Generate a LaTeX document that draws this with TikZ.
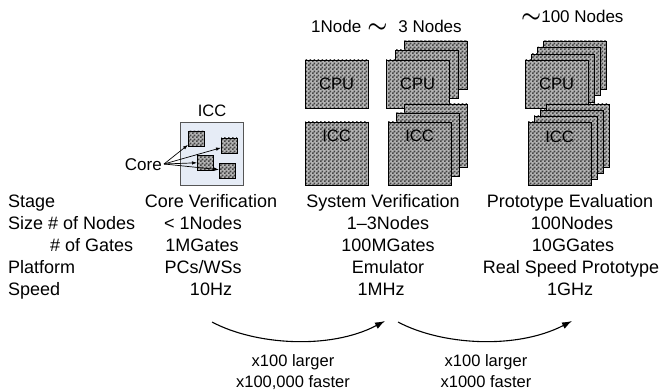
\documentclass[tikz,border=0pt]{standalone}
\usepackage{fontspec}
\setmainfont{Liberation Sans}
\usetikzlibrary{patterns,arrows.meta}
\pgfdeclarepatternformonly{finecheck}{\pgfpointorigin}{\pgfqpoint{4pt}{4pt}}{\pgfqpoint{4pt}{4pt}}{%
  \pgfpathrectangle{\pgfpointorigin}{\pgfqpoint{2pt}{2pt}}%
  \pgfpathrectangle{\pgfqpoint{2pt}{2pt}}{\pgfqpoint{2pt}{2pt}}%
  \pgfusepath{fill}}
\definecolor{iccblue}{HTML}{E6ECF6}
\definecolor{checklight}{HTML}{B4B4B4}
\definecolor{checkdark}{HTML}{444444}
\definecolor{iccborder}{HTML}{555555}
\newcommand{\bigsim}{\scalebox{1.3}{\boldmath$\sim$}}
\begin{document}
\begin{tikzpicture}[x=1pt,y=-1pt,
  chk/.style={draw=black, line width=0.8pt, preaction={fill=checklight},
    pattern=finecheck, pattern color=checkdark, inner sep=0pt, outer sep=0pt,
    anchor=north west},
  cpubox/.style={chk, minimum width=63pt, minimum height=48pt,
    font=\fontsize{16.5}{18}\selectfont},
  iccbox/.style={chk, minimum width=63pt, minimum height=63pt},
  boxlbl/.style={font=\fontsize{16.5}{18}\selectfont, inner sep=0pt, anchor=north},
  smallsq/.style={chk, minimum width=16pt, minimum height=15pt},
  lbl/.style={font=\fontsize{18}{20}\selectfont, inner sep=0pt, anchor=base},
  toplbl/.style={font=\fontsize{17}{19}\selectfont, inner sep=0pt, anchor=base west},
  gain/.style={font=\fontsize{16.5}{18}\selectfont, inner sep=0pt, anchor=base},
  corearrow/.style={-{Latex[length=5pt,width=3.5pt]}, line width=0.7pt},
  bigarrow/.style={-{Latex[length=10pt,width=7pt]}, line width=1.1pt}]
\useasboundingbox (0,0) rectangle (668,390);

% ---------- Core verification ICC ----------
\node[font=\fontsize{16.5}{18}\selectfont, inner sep=0pt, anchor=base] (iccT) at (212,117) {ICC};
\node[draw=iccborder, fill=iccblue, line width=0.8pt, minimum width=63pt,
  minimum height=63pt, inner sep=0pt, anchor=north west] (coreicc) at (180,122) {};
\node[smallsq] (sq1) at (188,131) {};
\node[smallsq] (sq2) at (221,138) {};
\node[smallsq] (sq3) at (197,155) {};
\node[smallsq] (sq4) at (219,163) {};
\node[font=\fontsize{17}{19}\selectfont, inner sep=0pt, anchor=base east] (core) at (162,170) {Core};
\coordinate (cc) at (164,164);
\draw[corearrow] (cc) -- (sq1);
\draw[corearrow] (cc) -- (sq2);
\draw[corearrow] (cc) -- (sq3);
\draw[corearrow] (cc) -- (sq4);

% ---------- System verification ----------
\node[toplbl] (sysTop) at (311,33) {1Node\hspace{6pt}\bigsim\hspace{11pt}3 Nodes};
\node[cpubox] (cpuA) at (305,60) {CPU};
\node[iccbox] (iccA) at (305,122) {};
\node[boxlbl] (iccAl) at ([yshift=-8pt]iccA.north) {ICC};

\node[cpubox] (cpuB3) at (404,41) {};
\node[cpubox] (cpuB2) at (395,50) {};
\node[cpubox] (cpuB1) at (386,60) {CPU};
\node[iccbox] (iccB3) at (404,104) {};
\node[iccbox] (iccB2) at (396,113) {};
\node[iccbox] (iccB1) at (388,122) {};
\node[boxlbl] (iccBl) at ([yshift=-8pt]iccB1.north) {ICC};

% ---------- Prototype evaluation ----------
\node[toplbl] (protoTop) at (521,23) {\bigsim 100 Nodes};
\node[cpubox] (cpuC4) at (543,41) {};
\node[cpubox] (cpuC3) at (537,47) {};
\node[cpubox] (cpuC2) at (531,54) {};
\node[cpubox] (cpuC1) at (525,60) {CPU};
\node[iccbox] (iccC4) at (546,104) {};
\node[iccbox] (iccC3) at (540,110) {};
\node[iccbox] (iccC2) at (534,116) {};
\node[iccbox] (iccC1) at (528,122) {};
\node[boxlbl] (iccCl) at ([yshift=-9pt]iccC1.north) {ICC};

% ---------- Table ----------
\node[lbl, anchor=base west] (hStage) at (8,207) {Stage};
\node[lbl, anchor=base west] (hSize) at (8,229) {Size \# of Nodes};
\node[lbl, anchor=base west] (hGates) at (50,251) {\# of Gates};
\node[lbl, anchor=base west] (hPlat) at (8,273) {Platform};
\node[lbl, anchor=base west] (hSpeed) at (8,295) {Speed};

\node[lbl] (cStage) at (211,207) {Core Verification};
\node[lbl] (cNodes) at (203,229) {< 1Nodes};
\node[lbl] (cGates) at (202,251) {1MGates};
\node[lbl] (cPlat) at (203,273) {PCs/WSs};
\node[lbl] (cSpeed) at (211,295) {10Hz};

\node[lbl] (sStage) at (383,207) {System Verification};
\node[lbl] (sNodes) at (388,229) {1--3Nodes};
\node[lbl] (sGates) at (388,251) {100MGates};
\node[lbl] (sPlat) at (388,273) {Emulator};
\node[lbl] (sSpeed) at (381,295) {1MHz};

\node[lbl] (pStage) at (570,207) {Prototype Evaluation};
\node[lbl] (pNodes) at (572,229) {100Nodes};
\node[lbl] (pGates) at (573,251) {10GGates};
\node[lbl] (pPlat) at (571,273) {Real Speed Prototype};
\node[lbl] (pSpeed) at (570,295) {1GHz};

% ---------- Arrows ----------
\coordinate (a1) at (212,322);
\coordinate (a2) at (385,321);
\coordinate (a3) at (398,322);
\coordinate (a4) at (572,321);
\draw[bigarrow] (a1) .. controls (255,345) and (330,350) .. (a2);
\draw[bigarrow] (a3) .. controls (441,345) and (516,350) .. (a4);

\node[gain] (g1a) at (293,366) {x100 larger};
\node[gain] (g1b) at (293,387) {x100,000 faster};
\node[gain] (g2a) at (486,366) {x100 larger};
\node[gain] (g2b) at (486,387) {x1000 faster};
\end{tikzpicture}
\end{document}
